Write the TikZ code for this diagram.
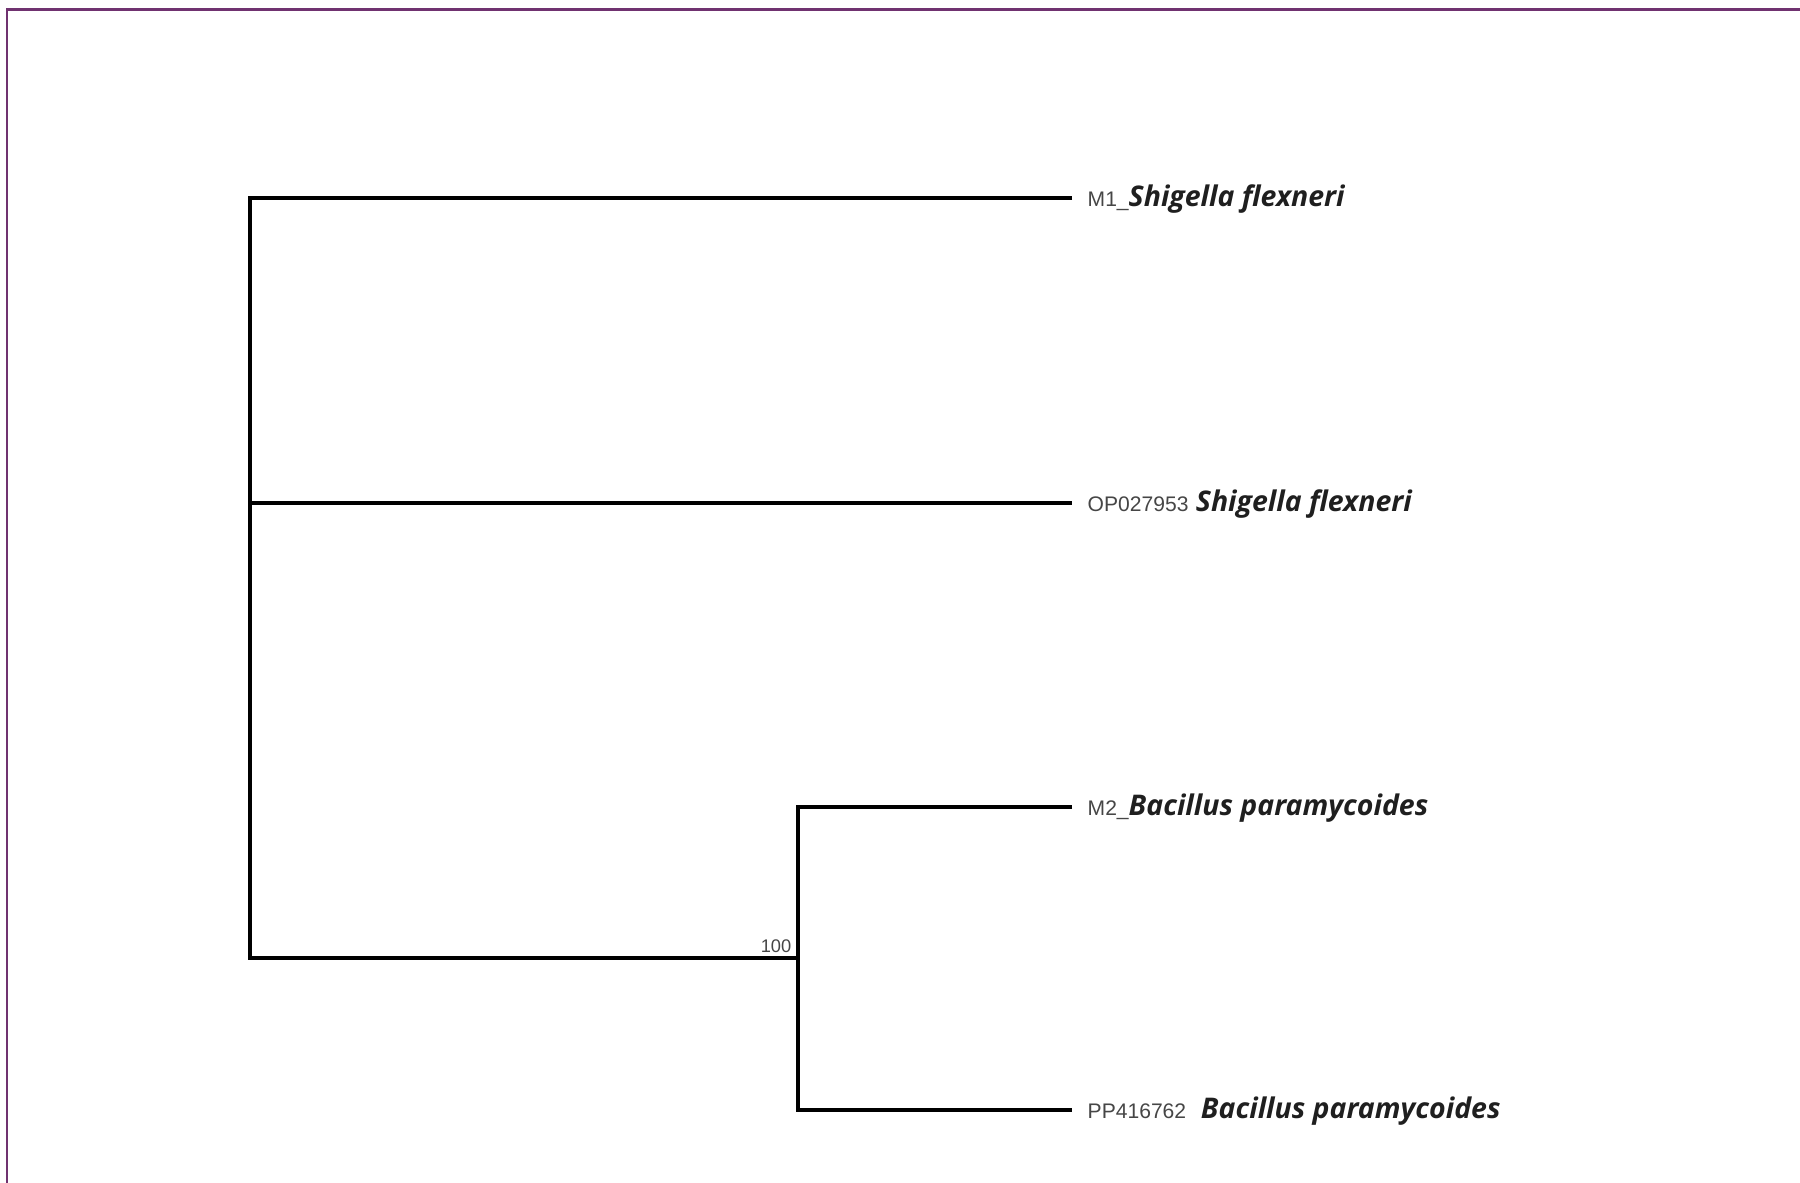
\documentclass[tikz,border=0pt]{standalone}
\usepackage{fontspec}
\usepackage{tikz}
\usetikzlibrary{calc}
\newfontfamily\accFont{Liberation Sans}
\newfontfamily\spFont{Open Sans}
\definecolor[named]{myColorFrame}{RGB}{112,50,112}
\definecolor[named]{myColorAcc}{RGB}{70,70,70}
\newcommand{\accText}[1]{\textcolor{myColorAcc}{\accFont\mdseries\upshape\fontsize{6pt}{7pt}\selectfont #1}}

\begin{document}
\begin{tikzpicture}
[%
    branch/.style={
      line width=0.95pt,
      line join=miter,
      black
    },
    leaf/.style={
      anchor=base west,
      inner sep=0pt,
      text=black!88,
      font=\fontsize{8.1pt}{10pt}\selectfont\spFont\bfseries\itshape
    },
    support/.style={
      anchor=south east,
      inner sep=0pt,
      text=myColorAcc,
      font=\fontsize{5.2pt}{6pt}\selectfont\accFont
    }
  ]
  \useasboundingbox (0,0) rectangle (18,11.82);
  %Frame
  \draw[myColorFrame,line width=0.6pt] (0.07,-0.5) -- (0.07,11.725) -- (18.5,11.725);

  %Tree
  \coordinate (root) at (2.50,2.24);
  \coordinate (clade) at (7.98,2.24);
  \coordinate (tipA) at (10.72,9.84);
  \coordinate (tipB) at (10.72,6.79);
  \coordinate (tipC) at (10.72,3.75);
  \coordinate (tipD) at (10.72,0.72);

  \draw[branch] (tipA) -| (root) -- (clade);
  \draw[branch] (root |- tipB) -- (tipB);
  \draw[branch] (tipC) -| (clade) |- (tipD);

  \node[support] (bsC) at ($(clade)+(-0.06,0.05)$) {100};

  %Labels
  \node[leaf] (labA) at ($(tipA)+(0.15,-0.08)$) {\accText{M1\_}Shigella flexneri};
  \node[leaf] (labB) at ($(tipB)+(0.15,-0.08)$) {\accText{OP027953} Shigella flexneri};
  \node[leaf] (labC) at ($(tipC)+(0.15,-0.08)$) {\accText{M2\_}Bacillus paramycoides};
  \node[leaf] (labD) at ($(tipD)+(0.15,-0.08)$) {\accText{PP416762} \ Bacillus paramycoides};
\end{tikzpicture}
\end{document}
